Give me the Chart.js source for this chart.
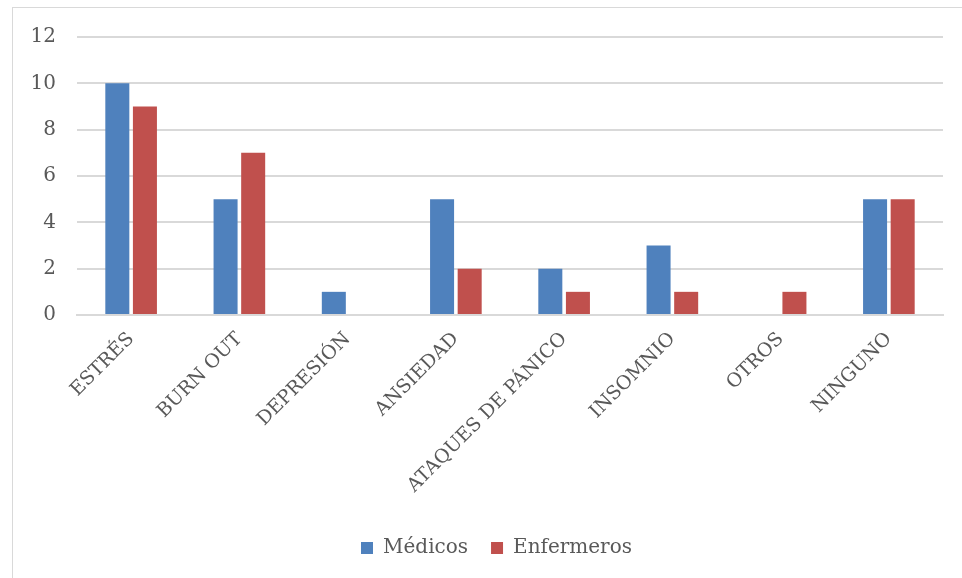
<!DOCTYPE html>
<html lang="es">
<head>
    <meta charset="UTF-8">
    <title>Síntomas</title>
    <script src="https://cdn.jsdelivr.net/npm/chart.js"></script>
    <style>
        html, body { margin: 0; padding: 0; background: #fff; }
        #frame { position: absolute; left: 12px; top: 7px; width: 980px; height: 600px; border: 1px solid #d9d9d9; box-sizing: border-box; }
        #wrap { position: absolute; left: 0; top: 0; width: 962px; height: 578px; }
    </style>
</head>
<body>
    <div id="frame"></div>
    <div id="wrap"><canvas id="chart"></canvas></div>

    <script>
        const categories = ['ESTRÉS', 'BURN OUT', 'DEPRESIÓN', 'ANSIEDAD', 'ATAQUES DE PÁNICO', 'INSOMNIO', 'OTROS', 'NINGUNO'];
        const medicos = [10, 5, 1, 5, 2, 3, 0, 5];
        const enfermeros = [9, 7, 0, 2, 1, 1, 1, 5];
        const yTicks = [0, 2, 4, 6, 8, 10, 12];

        const textColor = '#595959';
        const gridColor = '#d9d9d9';
        const fontFamily = '"DejaVu Serif", serif';

        // the legend sits centred under the plot area, not the whole canvas
        const shiftLegend = {
            id: 'shiftLegend',
            afterLayout(chart) {
                chart.legend.left += 25;
                chart.legend.right += 25;
            }
        };

        new Chart(document.getElementById('chart'), {
            type: 'bar',
            data: {
                labels: categories,
                datasets: [
                    { label: 'Médicos', data: medicos, backgroundColor: '#4f81bd' },
                    { label: 'Enfermeros', data: enfermeros, backgroundColor: '#c0504d' }
                ]
            },
            plugins: [shiftLegend],
            options: {
                responsive: true,
                maintainAspectRatio: false,
                animation: false,
                categoryPercentage: 0.51,
                barPercentage: 0.87,
                layout: { padding: { top: 37, left: 0, right: 19, bottom: 10 } },
                plugins: {
                    tooltip: { enabled: false },
                    legend: {
                        position: 'bottom',
                        labels: {
                            color: textColor,
                            font: { family: fontFamily, size: 20 },
                            boxWidth: 12,
                            boxHeight: 12,
                            padding: 23
                        }
                    }
                },
                scales: {
                    x: {
                        grid: { display: false },
                        border: { color: gridColor, width: 2 },
                        ticks: {
                            color: textColor,
                            font: { family: fontFamily, size: 19 },
                            minRotation: 45,
                            maxRotation: 45,
                            padding: 5
                        },
                        afterFit: (scale) => { scale.height = 200; }
                    },
                    y: {
                        min: 0,
                        max: 12,
                        afterBuildTicks: (scale) => { scale.ticks = yTicks.map(v => ({ value: v })); },
                        grid: { color: gridColor, lineWidth: 2, drawTicks: false },
                        border: { display: false },
                        ticks: {
                            color: textColor,
                            font: { family: fontFamily, size: 20 },
                            padding: 21
                        },
                        afterFit: (scale) => { scale.width = 77; }
                    }
                }
            }
        });
    </script>
</body>
</html>
